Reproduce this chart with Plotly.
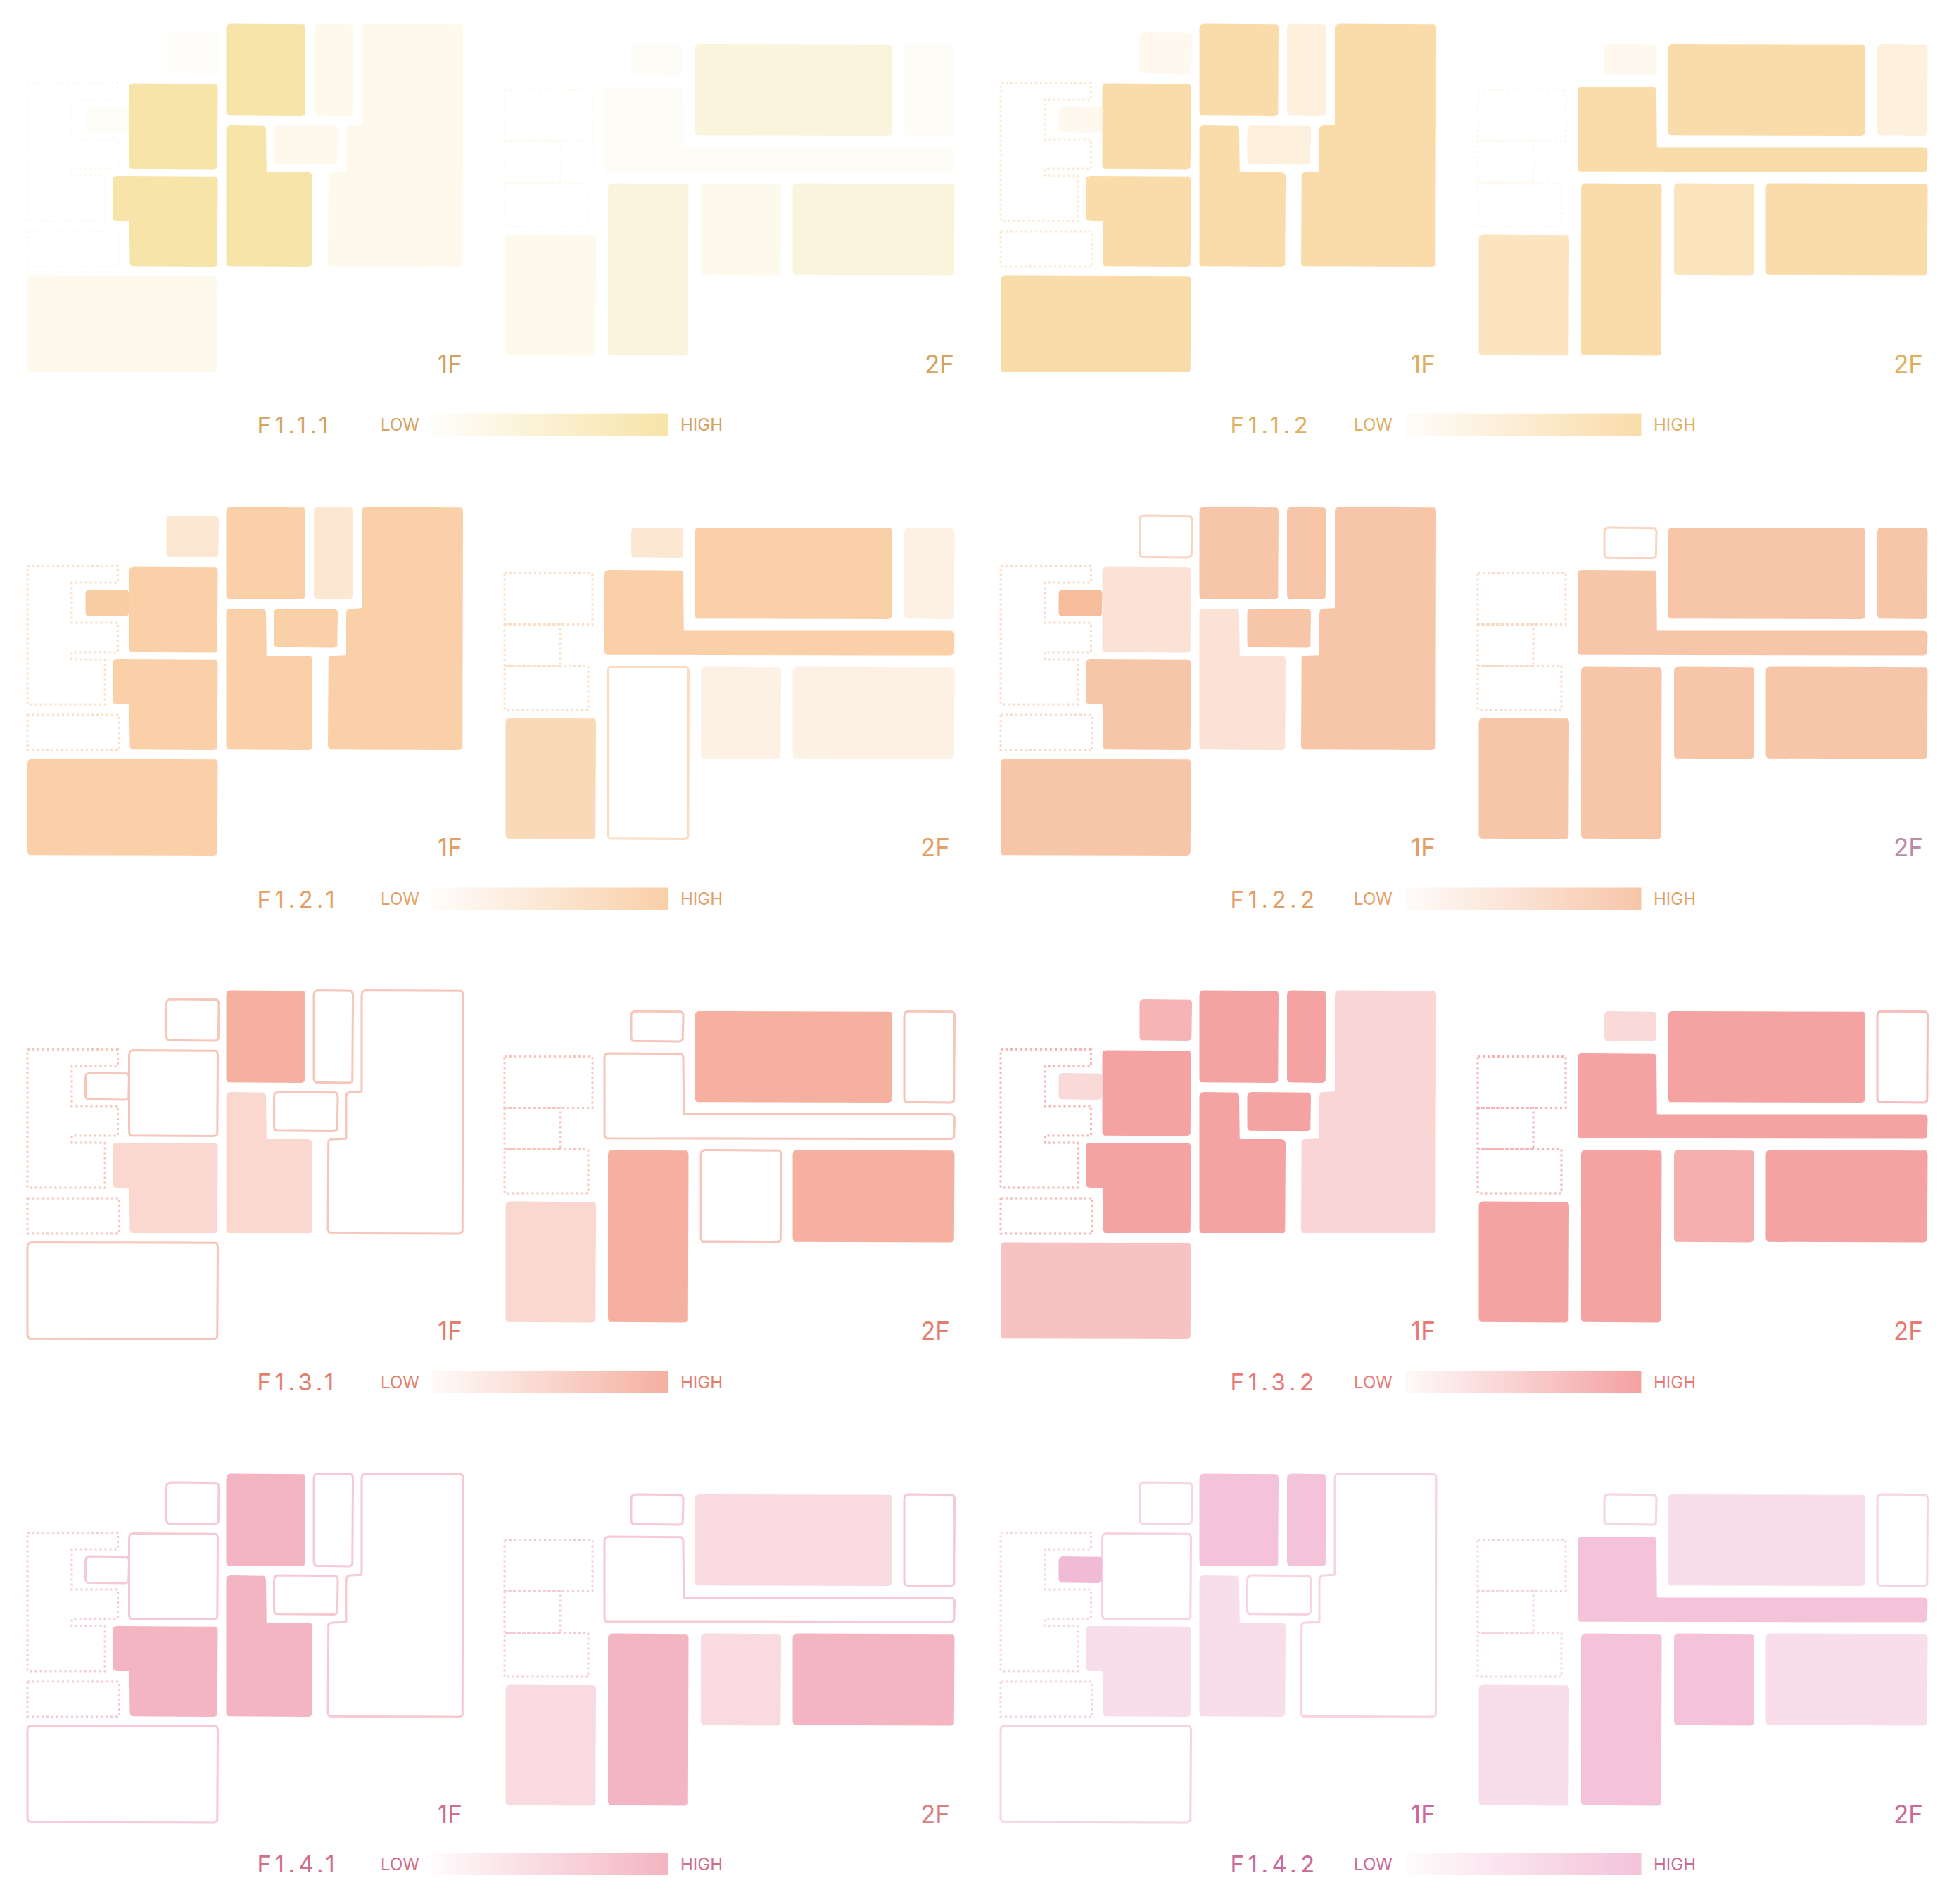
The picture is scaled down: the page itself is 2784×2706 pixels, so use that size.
import math
import plotly.graph_objects as go

# Room outlines of the two floor plans, in plan units (panel-local)
ROOMS_1F = [
    [(236.5, 33), (311, 33), (311, 92), (236.5, 92)],                     # A storage
    [(321.5, 20.5), (434, 20.5), (434, 152), (321.5, 152)],               # B
    [(446, 20.5), (501.5, 20.5), (501.5, 152), (446, 152)],               # C
    [(514, 20.5), (658, 20.5), (658, 366), (466, 366), (466, 232),
     (492, 232), (492, 165), (514, 165)],                                 # D
    [(389.5, 165), (480, 165), (480, 220.5), (389.5, 220.5)],             # E
    [(321.5, 165), (378, 165), (378, 232), (444, 232), (444, 366), (321.5, 366)],  # F
    [(183.5, 105.5), (309.5, 105.5), (309.5, 227.5), (183.5, 227.5)],     # G
    [(121.5, 138), (183.5, 138), (183.5, 176), (121.5, 176)],             # H
    [(160, 237), (309.5, 237), (309.5, 366), (184.5, 366), (184.5, 301), (160, 301)],  # I
    [(39, 378.5), (309.5, 378.5), (309.5, 516), (39, 516)],               # J
]
DOTTED_1F = [
    [(39, 104.5), (167.5, 104.5), (167.5, 128), (102, 128), (102, 185), (167.5, 185),
     (167.5, 227), (102, 227), (102, 237), (149, 237), (149, 301), (39, 301), (39, 104.5)],
    [(39, 316), (169, 316), (169, 366), (39, 366), (39, 316)],
]
ROOMS_2F = [
    [(897, 50), (971, 50), (971, 93), (897, 93)],                         # a
    [(987.5, 50), (1268, 50), (1268, 180), (987.5, 180)],                 # b
    [(1285, 50), (1356.5, 50), (1356.5, 180), (1285, 180)],               # c
    [(859, 110), (971, 110), (971, 196.5), (1356.5, 196.5), (1356.5, 231.5), (859, 231.5)],  # d
    [(864, 247.5), (978.5, 247.5), (978.5, 492.5), (864, 492.5)],         # e
    [(996, 247.5), (1110, 247.5), (1110, 378.5), (996, 378.5)],           # f
    [(1126.5, 247.5), (1356.5, 247.5), (1356.5, 378.5), (1126.5, 378.5)], # g
    [(718.5, 320.5), (847, 320.5), (847, 492.5), (718.5, 492.5)],         # h
]
DOTTED_2F = [
    [(717, 114.5), (842, 114.5), (842, 187.5), (717, 187.5), (717, 114.5)],
    [(717, 187.5), (796, 187.5), (796, 246.5), (717, 246.5), (717, 187.5)],
    [(717, 246.5), (836, 246.5), (836, 309), (717, 309), (717, 246.5)],
]

# Panel names and colours
PANEL_NAMES = ["F1.1.1", "F1.1.2", "F1.2.1", "F1.2.2", "F1.3.1", "F1.3.2", "F1.4.1", "F1.4.2"]
HIGH_COLORS = ["#f7e4a8", "#fadcaa", "#f9d0a8", "#f7c6a9", "#f5b0a0", "#f4a2a2", "#f4b5c3", "#f4c2d9"]
TEXT_COLORS = ["#d5a25f", "#dcb060", "#e39f65", "#e39f65", "#e27f6c", "#e87a76", "#cf6f8a", "#c96a99"]
TEXT_2F_COLORS = ["#d5a25f", "#dcb060", "#e39f65", "#b98cad", "#e27f6c", "#e87a76", "#d97f7f", "#c96a99"]
DOT_LEVELS = [0.2, 0.6, 0.65, 0.65, 0.7, 0.8, 0.7, 0.7]
DOT_LEVELS_2F = [0.2, 0.2, 0.65, 0.65, 0.7, 0.8, 0.7, 0.7]

# Level of each room (0 = no value, drawn as an outline), order A..J / a..h
LEVELS_1F = [
    [.05, 1, .2, .2, .2, 1, 1, .07, 1, .2],
    [.2, 1, .4, 1, .4, 1, 1, .2, 1, 1],
    [.5, 1, .5, 1, 1, 1, 1, 1.05, 1, 1],
    [0, 1, 1, 1, 1, .5, .5, 1.15, 1, 1],
    [0, 1, 0, 0, 0, .5, 0, 0, .5, 0],
    [.8, 1, 1, .45, 1, 1, 1, .4, 1, .65],
    [0, 1, 0, 0, 0, 1, 0, 0, 1, 0],
    [0, 1, 1, 0, 0, .55, 0, 1.1, .55, 0],
]
LEVELS_2F = [
    [.1, .4, .1, .1, .4, .2, .4, .2],
    [.2, 1, .4, 1, 1, .8, 1, .75],
    [.5, 1, .3, 1, 0, .3, .3, .8],
    [0, 1, 1, 1, 1, 1, 1, 1],
    [0, 1, 0, 0, 1, 0, 1, .5],
    [.4, 1, 0, 1, 1, .85, 1, 1],
    [0, .5, 0, 0, 1, .5, 1, .5],
    [0, .55, 0, 1, 1, 1, .55, .55],
]

LEGEND_Y = [590.7, 577.5, 577, 575]   # centre of the legend row, per figure row
RAMP = list(range(65))

W, H = 2784, 2706
PANEL_W, PANEL_H = 1384, 632
COL_X = [0, 1383]
ROW_Y = [13, 700, 1387, 2074]
CORNER = 6.5
FONT = "Inter"


def hex_rgb(c):
    return tuple(int(c[i:i + 2], 16) for i in (1, 3, 5))


def mix(c, t):
    r, g, b = hex_rgb(c)
    return "rgb(%d,%d,%d)" % (max(0, 255 + (r - 255) * t), max(0, 255 + (g - 255) * t), max(0, 255 + (b - 255) * t))


def rounded(poly):
    xs, ys = [], []
    n = len(poly)
    area = sum(poly[i][0] * poly[(i + 1) % n][1] - poly[(i + 1) % n][0] * poly[i][1] for i in range(n))
    s = 1 if area > 0 else -1
    for i in range(n):
        px, py = poly[i - 1]
        x, y = poly[i]
        nx, ny = poly[(i + 1) % n]
        a = (px - x, py - y)
        b = (nx - x, ny - y)
        la, lb = math.hypot(*a), math.hypot(*b)
        ua, ub = (a[0] / la, a[1] / la), (b[0] / lb, b[1] / lb)
        convex = (b[0] * a[1] - b[1] * a[0]) * s > 0
        r = min(CORNER if convex else 3.0, la / 2, lb / 2)
        for k in range(7):
            t = k / 6
            q0 = (x + ua[0] * r, y + ua[1] * r)
            q2 = (x + ub[0] * r, y + ub[1] * r)
            xs.append((1 - t) ** 2 * q0[0] + 2 * t * (1 - t) * x + t * t * q2[0])
            ys.append((1 - t) ** 2 * q0[1] + 2 * t * (1 - t) * y + t * t * q2[1])
    xs.append(xs[0])
    ys.append(ys[0])
    return xs, ys


fig = go.Figure()
annotations = []
layout_axes = {}

for p, name in enumerate(PANEL_NAMES):
    row, col = p // 2, p % 2
    sx = "" if p == 0 else str(p + 1)
    ox, oy = COL_X[col], ROW_Y[row]
    layout_axes["xaxis" + sx] = dict(domain=[ox / W, (ox + PANEL_W) / W], range=[0, PANEL_W], visible=False,
                                     fixedrange=True, anchor="y" + sx)
    layout_axes["yaxis" + sx] = dict(domain=[1 - (oy + PANEL_H) / H, 1 - oy / H], range=[PANEL_H, 0], visible=False,
                                     fixedrange=True, anchor="x" + sx)
    xa, ya = "x" + sx, "y" + sx
    high = HIGH_COLORS[p]

    for polys, levels in ((ROOMS_1F, LEVELS_1F[p]), (ROOMS_2F, LEVELS_2F[p])):
        for poly, lv in zip(polys, levels):
            xs, ys = rounded(poly)
            if lv == 0:
                fig.add_trace(go.Scatter(x=xs, y=ys, xaxis=xa, yaxis=ya, mode="lines", fill="toself",
                                         fillcolor="white", line=dict(color=mix(high, .72), width=3),
                                         hoverinfo="skip", showlegend=False))
            else:
                fig.add_trace(go.Scatter(x=xs, y=ys, xaxis=xa, yaxis=ya, mode="lines", fill="toself",
                                         fillcolor=mix(high, lv), line=dict(width=0),
                                         hoverinfo="skip", showlegend=False))
    for polys, dl in ((DOTTED_1F, DOT_LEVELS[p]), (DOTTED_2F, DOT_LEVELS_2F[p])):
        for poly in polys:
            fig.add_trace(go.Scatter(x=[q[0] for q in poly], y=[q[1] for q in poly], xaxis=xa, yaxis=ya, mode="lines",
                                     line=dict(color=mix(high, dl), width=3, dash="3px,4px"),
                                     hoverinfo="skip", showlegend=False))

    cy = LEGEND_Y[row]
    fig.add_trace(go.Heatmap(z=[RAMP], x0=617, dx=330 / (len(RAMP) - 1), y0=cy, dy=32, xaxis=xa, yaxis=ya,
                             colorscale=[[0, mix(high, .06)], [1, high]], showscale=False, hoverinfo="skip",
                             zsmooth="best"))

    tc = TEXT_COLORS[p]

    def note(text, x, y, size, color, anchor="left"):
        annotations.append(dict(text=text, x=x, y=y, xref=xa, yref=ya, xanchor=anchor, yanchor="middle",
                                showarrow=False, font=dict(family=FONT, size=size, color=color, weight=400),
                                borderpad=0, borderwidth=0))

    note("1F", 657, 504, 35, tc, "right")
    note("2F", 1356 if p == 0 else 1350, 504, 35, TEXT_2F_COLORS[p], "right")
    note(name, 382, cy, 33, tc, "left")
    note("LOW", 541, cy, 24, tc, "left")
    note("HIGH", 967, cy, 24, tc, "left")

fig.update_layout(width=W, height=H, margin=dict(l=0, r=0, t=0, b=0, pad=0), paper_bgcolor="white",
                  plot_bgcolor="rgba(0,0,0,0)", showlegend=False, annotations=annotations, **layout_axes)

post = """
document.documentElement.style.margin='0';document.body.style.margin='0';document.body.style.overflow='hidden';
document.querySelectorAll('.annotation-text').forEach(function(t){
  if(t.textContent.indexOf('F1.')===0){t.style.letterSpacing='5.5px';}
});
"""
fig.write_html("out.html", post_script=post, config={"displayModeBar": False})
